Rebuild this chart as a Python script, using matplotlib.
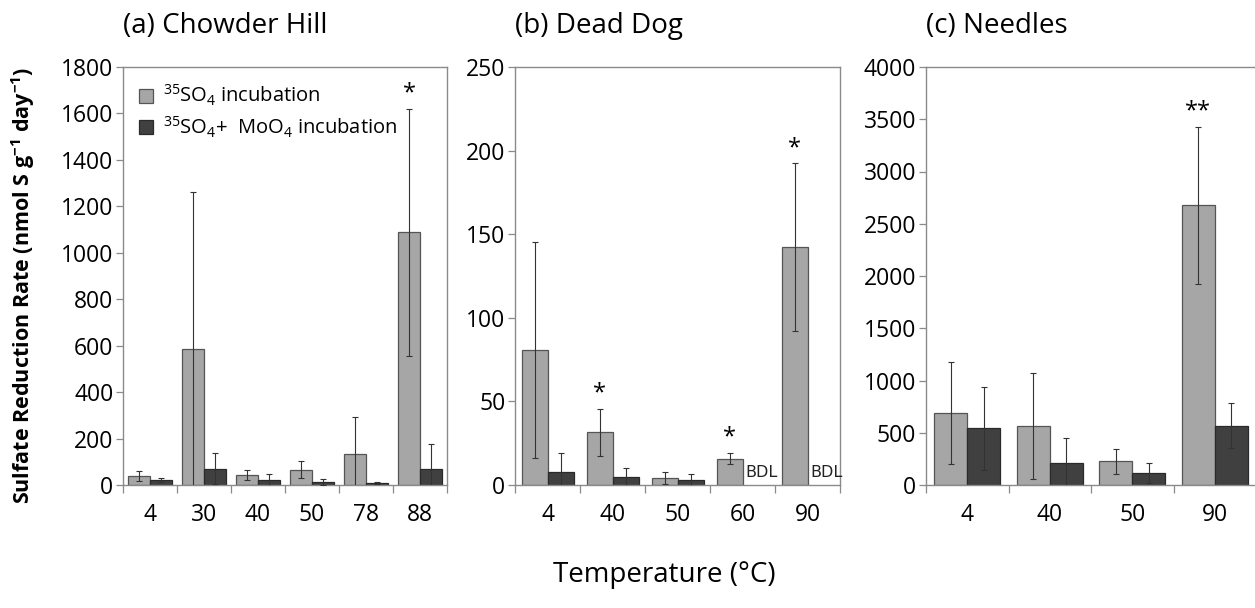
import matplotlib
matplotlib.use('Agg')
import matplotlib.pyplot as plt
import numpy as np

plt.rcParams['font.family'] = ['Open Sans', 'DejaVu Sans']
plt.rcParams['mathtext.fontset'] = 'custom'
plt.rcParams['mathtext.rm'] = 'Open Sans'
plt.rcParams['mathtext.it'] = 'Open Sans:italic'
plt.rcParams['mathtext.bf'] = 'Open Sans:bold'

# (a) Chowder Hill
chowder_temps = ['4', '30', '40', '50', '78', '88']
chowder_so4 = [39, 584, 43, 66, 135, 1089]
chowder_so4_err = [23, 679, 22, 37, 159, 532]
chowder_mo = [21, 70, 21, 13, 9, 67]
chowder_mo_err = [8, 66, 25, 11, 3, 110]
chowder_sig = ['', '', '', '', '', '*']

# (b) Dead Dog  (nan = below detection limit)
deaddog_temps = ['4', '40', '50', '60', '90']
deaddog_so4 = [80.7, 31.5, 4.2, 15.7, 142.4]
deaddog_so4_err = [64.5, 14, 3.4, 3.4, 50]
deaddog_mo = [8, 4.6, 3, np.nan, np.nan]
deaddog_mo_err = [11, 5.4, 3.4, np.nan, np.nan]
deaddog_sig = ['', '*', '', '*', '*']

# (c) Needles
needles_temps = ['4', '40', '50', '90']
needles_so4 = [685, 567, 226, 2677]
needles_so4_err = [488, 507, 121, 749]
needles_mo = [542, 214, 118, 567]
needles_mo_err = [398, 235, 96, 214]
needles_sig = ['', '', '', '**']

panels = [
    ('(a) Chowder Hill', chowder_temps, chowder_so4, chowder_so4_err, chowder_mo, chowder_mo_err, chowder_sig, 1800, 200),
    ('(b) Dead Dog', deaddog_temps, deaddog_so4, deaddog_so4_err, deaddog_mo, deaddog_mo_err, deaddog_sig, 250, 50),
    ('(c) Needles', needles_temps, needles_so4, needles_so4_err, needles_mo, needles_mo_err, needles_sig, 4000, 500),
]

light = '#a6a6a6'
dark = '#404040'
spine_col = '#8a8a8a'

fig = plt.figure(figsize=(12.55, 6.08), dpi=100)
W, H = 1255, 608
boxes = [(123, 447), (515, 840), (926, 1256)]
top_px, bot_px = 67, 485

for (title, temps, so4, so4_err, mo, mo_err, sig, ymax, ystep), (x0, x1) in zip(panels, boxes):
    ax = fig.add_axes([x0 / W, (H - bot_px) / H, (x1 - x0) / W, (bot_px - top_px) / H])
    idx = np.arange(len(temps))
    bw = 0.4
    ax.bar(idx - bw / 2, so4, bw, color=light, edgecolor='#555555', linewidth=0.9,
           label=r'$^{35}$SO$_4$ incubation', zorder=2)
    ax.bar(idx + bw / 2, mo, bw, color=dark, edgecolor='#2a2a2a', linewidth=0.9,
           label=r'$^{35}$SO$_4$+  MoO$_4$ incubation', zorder=2)
    ax.errorbar(idx - bw / 2, so4, yerr=so4_err, fmt='none', ecolor='#333333',
                elinewidth=0.8, capsize=2.5, capthick=0.8, zorder=3)
    ax.errorbar(idx + bw / 2, mo, yerr=mo_err, fmt='none', ecolor='#333333',
                elinewidth=0.8, capsize=2.5, capthick=0.8, zorder=3)

    for i in idx:
        if sig[i]:
            ax.annotate(sig[i], (i - bw / 2, so4[i] + so4_err[i]), xytext=(0, 11),
                        textcoords='offset points', ha='center', va='center', fontsize=17)
        if np.isnan(mo[i]):
            ax.text(i + 0.04, ymax * 0.012, 'BDL', ha='left', va='bottom', fontsize=11.5,
                    family=['Liberation Sans Narrow', 'DejaVu Sans'], color='#222222')

    ax.set_xlim(-0.5, len(temps) - 0.5)
    ax.set_ylim(0, ymax)
    ax.set_yticks(np.arange(0, ymax + 1, ystep))
    ax.set_xticks(idx)
    ax.set_xticklabels(temps)
    ax.set_xticks(np.arange(-0.5, len(temps)), minor=True)
    ax.tick_params(axis='x', which='major', length=0, pad=13, labelsize=16.5)
    ax.tick_params(axis='x', which='minor', length=6, width=0.9, color=spine_col, direction='out')
    ax.tick_params(axis='y', length=5, width=0.9, color=spine_col, pad=2, labelsize=16.5)
    for sp in ax.spines.values():
        sp.set_color(spine_col)
        sp.set_linewidth(1.0)

    ax.text(0, 1.081, title, transform=ax.transAxes, ha='left', va='baseline', fontsize=20)

    if title.startswith('(a)'):
        ax.legend(loc='upper left', frameon=False, fontsize=14.5, handlelength=0.7,
                  handleheight=0.7, handletextpad=0.5, labelspacing=0.3,
                  borderaxespad=0.4, bbox_to_anchor=(0.0, 1.0))

fig.text(0.018, 0.531, r'Sulfate Reduction Rate (nmol S g$^{\mathbf{-1}}$ day$^{\mathbf{-1}}$)',
         rotation=90, ha='center', va='center', fontsize=15.5, fontweight='bold')
fig.text(0.529, 0.054, 'Temperature (°C)', ha='center', va='center', fontsize=20)

fig.savefig('out.png', dpi=100)
